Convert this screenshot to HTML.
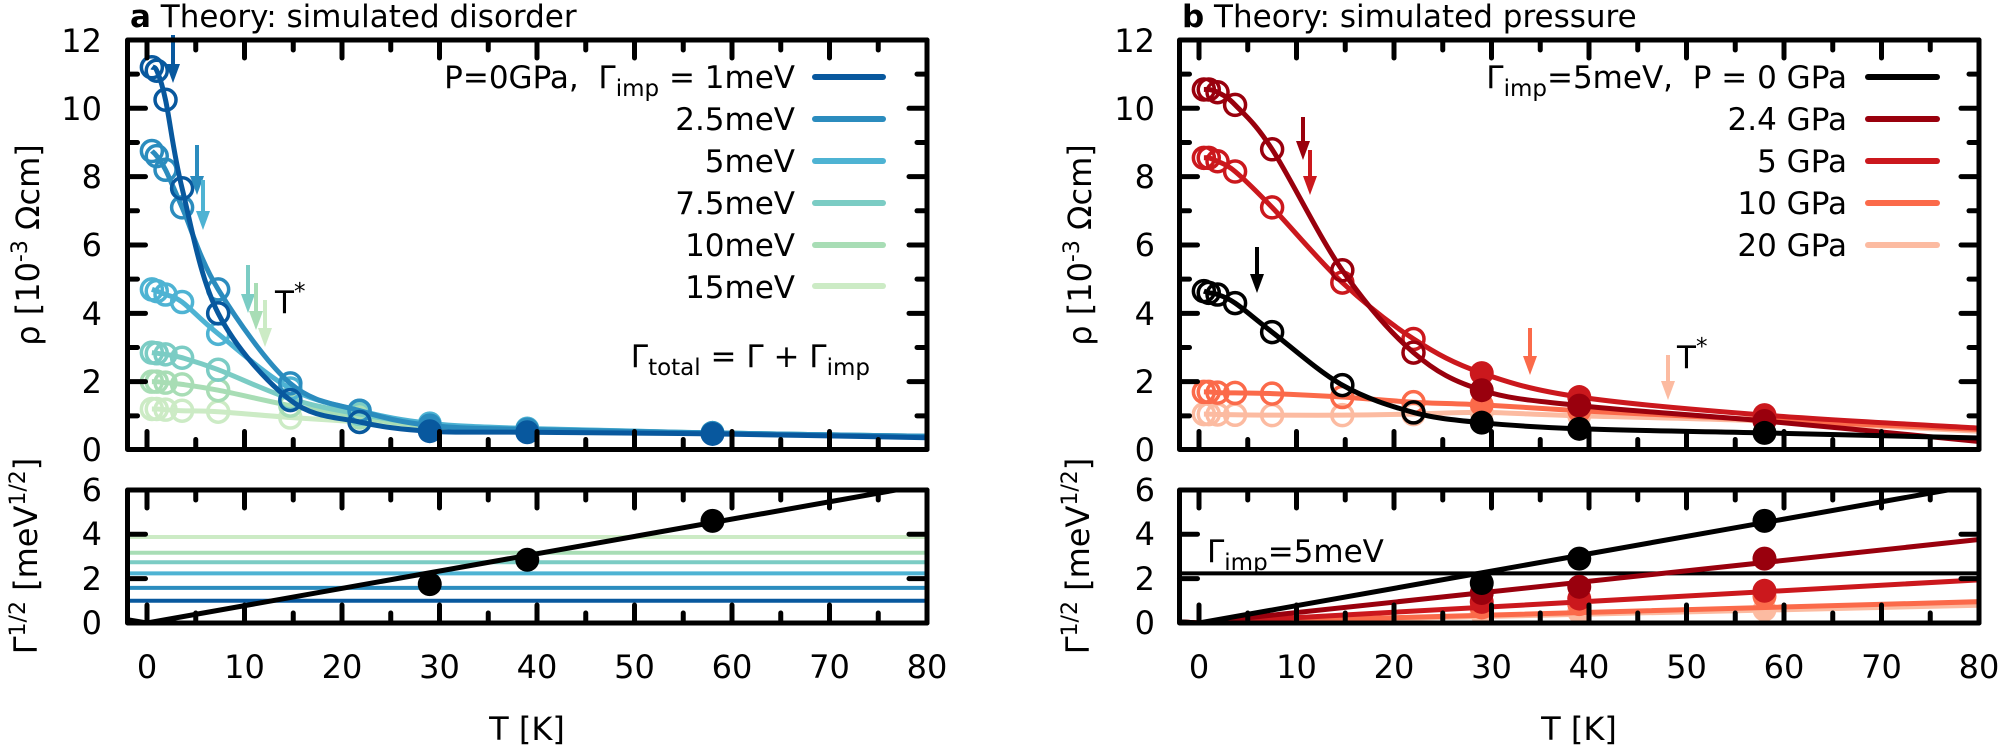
<!DOCTYPE html>
<html><head><meta charset="utf-8">
<style>
html,body{margin:0;padding:0;background:#fff;}
svg{display:block;font-family:"DejaVu Sans","Liberation Sans",sans-serif;}
</style></head>
<body>
<svg id="s" width="2000" height="746" viewBox="0 0 2000 746" xmlns="http://www.w3.org/2000/svg">
<defs>
<clipPath id="cA1"><rect x="127.5" y="40" width="799.5" height="409.5"/></clipPath>
<clipPath id="cA2"><rect x="127.5" y="490" width="799.5" height="133"/></clipPath>
<clipPath id="cB1"><rect x="1179.5" y="40" width="799.5" height="409.5"/></clipPath>
<clipPath id="cB2"><rect x="1179.5" y="490" width="799.5" height="133"/></clipPath>
</defs>
<g id="data"></g>
<g id="axes"></g>

<text x="130" y="27" font-size="31"><tspan font-weight="bold">a</tspan> Theory: simulated disorder</text>
<text x="1182" y="27" font-size="31"><tspan font-weight="bold">b</tspan> Theory: simulated pressure</text>

<g font-size="32" text-anchor="end">
<text x="102" y="461">0</text><text x="102" y="393">2</text><text x="102" y="325">4</text>
<text x="102" y="256">6</text><text x="102" y="188">8</text><text x="102" y="120">10</text><text x="102" y="52">12</text>
<text x="102" y="634">0</text><text x="102" y="590">2</text><text x="102" y="545">4</text><text x="102" y="501">6</text>
<text x="1155" y="461">0</text><text x="1155" y="393">2</text><text x="1155" y="325">4</text>
<text x="1155" y="256">6</text><text x="1155" y="188">8</text><text x="1155" y="120">10</text><text x="1155" y="52">12</text>
<text x="1155" y="634">0</text><text x="1155" y="590">2</text><text x="1155" y="545">4</text><text x="1155" y="501">6</text>
</g>
<g font-size="32" text-anchor="middle">
<text x="147" y="678">0</text><text x="244.5" y="678">10</text><text x="342" y="678">20</text><text x="439.5" y="678">30</text>
<text x="537" y="678">40</text><text x="634.5" y="678">50</text><text x="732" y="678">60</text><text x="829.5" y="678">70</text><text x="927" y="678">80</text>
<text x="1199" y="678">0</text><text x="1296.5" y="678">10</text><text x="1394" y="678">20</text><text x="1491.5" y="678">30</text>
<text x="1589" y="678">40</text><text x="1686.5" y="678">50</text><text x="1784" y="678">60</text><text x="1881.5" y="678">70</text><text x="1979" y="678">80</text>
<text x="527" y="740">T [K]</text><text x="1579" y="740">T [K]</text>
</g>
<text transform="translate(39,245) rotate(-90)" font-size="32" text-anchor="middle">ρ [10<tspan font-size="22" dy="-12">-3</tspan><tspan dy="12"> Ωcm]</tspan></text>
<text transform="translate(1091,245) rotate(-90)" font-size="32" text-anchor="middle">ρ [10<tspan font-size="22" dy="-12">-3</tspan><tspan dy="12"> Ωcm]</tspan></text>
<text transform="translate(37,556) rotate(-90)" font-size="32" text-anchor="middle">Γ<tspan font-size="22" dy="-12">1/2</tspan><tspan dy="12"> [meV</tspan><tspan font-size="22" dy="-12">1/2</tspan><tspan dy="12">]</tspan></text>
<text transform="translate(1089,556) rotate(-90)" font-size="32" text-anchor="middle">Γ<tspan font-size="22" dy="-12">1/2</tspan><tspan dy="12"> [meV</tspan><tspan font-size="22" dy="-12">1/2</tspan><tspan dy="12">]</tspan></text>

<g font-size="31" text-anchor="end">
<text x="795" y="88">P=0GPa,&#160;&#160;Γ<tspan font-size="23" dy="8">imp</tspan><tspan dy="-8"> = 1meV</tspan></text>
<text x="795" y="130">2.5meV</text>
<text x="795" y="172">5meV</text>
<text x="795" y="214">7.5meV</text>
<text x="795" y="256">10meV</text>
<text x="795" y="298">15meV</text>
<text x="870" y="367">Γ<tspan font-size="23" dy="8">total</tspan><tspan dy="-8"> = Γ + Γ</tspan><tspan font-size="23" dy="8">imp</tspan></text>
<text x="1847" y="88">Γ<tspan font-size="23" dy="8">imp</tspan><tspan dy="-8">=5meV,&#160;&#160;P = 0 GPa</tspan></text>
<text x="1847" y="130">2.4 GPa</text>
<text x="1847" y="172">5 GPa</text>
<text x="1847" y="214">10 GPa</text>
<text x="1847" y="256">20 GPa</text>
</g>
<text x="1207" y="562" font-size="31">Γ<tspan font-size="23" dy="8">imp</tspan><tspan dy="-8">=5meV</tspan></text>
<text x="275" y="313" font-size="31">T<tspan font-size="23" dy="-14">*</tspan></text>
<text x="1677" y="368" font-size="31">T<tspan font-size="23" dy="-14">*</tspan></text>

<g stroke-width="6" stroke-linecap="round">
<line x1="815" y1="77" x2="883" y2="77" stroke="#08589e"/>
<line x1="815" y1="119" x2="883" y2="119" stroke="#2b8cbe"/>
<line x1="815" y1="161" x2="883" y2="161" stroke="#4eb3d3"/>
<line x1="815" y1="203" x2="883" y2="203" stroke="#7bccc4"/>
<line x1="815" y1="245" x2="883" y2="245" stroke="#a8ddb5"/>
<line x1="815" y1="286" x2="883" y2="286" stroke="#ccebc5"/>
<line x1="1868" y1="77" x2="1937" y2="77" stroke="#000"/>
<line x1="1868" y1="119" x2="1937" y2="119" stroke="#99000d"/>
<line x1="1868" y1="161" x2="1937" y2="161" stroke="#cb181d"/>
<line x1="1868" y1="203" x2="1937" y2="203" stroke="#fb6a4a"/>
<line x1="1868" y1="245" x2="1937" y2="245" stroke="#fcbba1"/>
</g>
</svg>
<script>
(function(){
var NS="http://www.w3.org/2000/svg";
var data=document.getElementById("data"), axes=document.getElementById("axes");
function el(p,tag,attrs){var e=document.createElementNS(NS,tag);for(var k in attrs)e.setAttribute(k,attrs[k]);p.appendChild(e);return e;}
function X(off,T){return off+147+9.75*T;}
function Y1(v){return 450-34.17*v;}
function Y2(v){return 623-22.2*v;}
function cr(pts){
  var d="M"+pts[0][0].toFixed(1)+","+pts[0][1].toFixed(1);
  for(var i=0;i<pts.length-1;i++){
    var p0=pts[i-1]||pts[i],p1=pts[i],p2=pts[i+1],p3=pts[i+2]||p2;
    var c1=[p1[0]+(p2[0]-p0[0])/6,p1[1]+(p2[1]-p0[1])/6];
    var c2=[p2[0]-(p3[0]-p1[0])/6,p2[1]-(p3[1]-p1[1])/6];
    d+="C"+c1[0].toFixed(1)+","+c1[1].toFixed(1)+" "+c2[0].toFixed(1)+","+c2[1].toFixed(1)+" "+p2[0].toFixed(1)+","+p2[1].toFixed(1);
  }
  return d;
}
function arrow(g,x,y1,y2,c){
  el(g,"line",{x1:x,y1:y1,x2:x,y2:y2-14,stroke:c,"stroke-width":4});
  el(g,"polygon",{points:(x-7)+","+(y2-19)+" "+(x+7)+","+(y2-19)+" "+x+","+y2,fill:c});
}
var TA=[0.5,1,1.9,3.6,7.3,14.7,21.8,29,39,58,80];
var TB=[0.5,1,1.9,3.7,7.5,14.7,22,29,39,58,80];
var A=[
 ["#ccebc5",[1.2,1.2,1.18,1.15,1.12,0.95,0.82,0.65,0.57,0.48,0.38],15],
 ["#a8ddb5",[2.0,2.0,1.97,1.92,1.75,1.3,0.95,0.7,0.6,0.5,0.4],10],
 ["#7bccc4",[2.85,2.83,2.8,2.7,2.35,1.5,1.05,0.75,0.62,0.5,0.4],7.5],
 ["#4eb3d3",[4.7,4.65,4.55,4.33,3.4,1.8,1.15,0.78,0.63,0.5,0.4],5],
 ["#2b8cbe",[8.75,8.6,8.2,7.1,4.7,1.95,1.15,0.72,0.6,0.5,0.4],2.5],
 ["#08589e",[11.2,11.1,10.25,7.66,4.0,1.46,0.82,0.55,0.52,0.47,0.36],1]
];
var B=[
 ["#fcbba1",[1.05,1.05,1.04,1.03,1.02,1.02,1.05,1.1,1.0,0.85,0.55],0.01,[0.45,0.5,0.6]],
 ["#fb6a4a",[1.7,1.7,1.68,1.67,1.65,1.55,1.4,1.32,1.15,0.88,0.6],0.012,[0.7,0.85,1.2]],
 ["#cb181d",[8.55,8.55,8.45,8.15,7.1,4.9,3.25,2.25,1.55,1.02,0.64],0.0243,[0.95,1.1,1.45]],
 ["#99000d",[10.55,10.55,10.47,10.1,8.8,5.26,2.85,1.75,1.3,0.85,0.25],0.047,[1.35,1.63,2.9]],
 ["#000000",[4.65,4.6,4.55,4.3,3.45,1.9,1.1,0.8,0.62,0.5,0.35],0.078,[1.8,2.9,4.6]]
];
function drawTop(off,T,S,clip){
  var g=el(data,"g",{"clip-path":"url(#"+clip+")"});
  S.forEach(function(s){
    var pts=T.map(function(t,i){return [X(off,t),Y1(s[1][i])];});
    el(g,"path",{d:cr(pts),fill:"none",stroke:s[0],"stroke-width":5,"stroke-linejoin":"round"});
    for(var i=0;i<T.length-1;i++){
      if(T[i]<25) el(g,"circle",{cx:pts[i][0],cy:pts[i][1],r:10.5,fill:"none",stroke:s[0],"stroke-width":3.5});
      else el(g,"circle",{cx:pts[i][0],cy:pts[i][1],r:12,fill:s[0]});
    }
  });
}
drawTop(0,TA,A,"cA1");
drawTop(1052,TB,B,"cB1");
var gl=el(data,"g",{"clip-path":"url(#cA2)"});
A.forEach(function(s){var y=Y2(Math.sqrt(s[2]));el(gl,"line",{x1:120,y1:y,x2:935,y2:y,stroke:s[0],"stroke-width":4});});
el(gl,"polyline",{points:X(0,-2)+","+Y2(0.15)+" "+X(0,0)+","+Y2(0)+" "+X(0,82)+","+Y2(0.078*82),fill:"none",stroke:"#000","stroke-width":5});
[[29,1.75],[39,2.85],[58,4.6]].forEach(function(p){el(gl,"circle",{cx:X(0,p[0]),cy:Y2(p[1]),r:12,fill:"#000"});});
var gr=el(data,"g",{"clip-path":"url(#cB2)"});
var yh=Y2(Math.sqrt(5));
el(gr,"line",{x1:1170,y1:yh,x2:1990,y2:yh,stroke:"#000","stroke-width":4});
B.forEach(function(s){
  el(gr,"polyline",{points:X(1052,-2)+","+Y2(0.05)+" "+X(1052,0)+","+Y2(0)+" "+X(1052,82)+","+Y2(s[2]*82),fill:"none",stroke:s[0],"stroke-width":5});
  [29,39,58].forEach(function(t,i){el(gr,"circle",{cx:X(1052,t),cy:Y2(s[3][i]),r:12,fill:s[0]});});
});
var ga=el(data,"g",{});
arrow(ga,173,35,83,"#08589e");arrow(ga,197,145,195,"#2b8cbe");arrow(ga,203,180,230,"#4eb3d3");
arrow(ga,248,265,313,"#7bccc4");arrow(ga,256,283,330,"#a8ddb5");arrow(ga,265,300,347,"#ccebc5");
arrow(ga,1257,247,293,"#000");arrow(ga,1303,117,160,"#99000d");arrow(ga,1310,150,195,"#cb181d");
arrow(ga,1530,328,375,"#fb6a4a");arrow(ga,1668,355,400,"#fcbba1");
function frame(off){
  var L=127.5+off,R=927+off;
  [[40,449.5,true],[490,623,false]].forEach(function(f){
    var top=f[0],bot=f[1],isTop=f[2];
    for(var t=0;t<=80;t+=5){
      var x=X(off,t),len=(t%10===0)?18:10;
      el(axes,"line",{x1:x,y1:bot,x2:x,y2:bot-len,stroke:"#000","stroke-width":5,"stroke-linecap":"round"});
      el(axes,"line",{x1:x,y1:top,x2:x,y2:top+len,stroke:"#000","stroke-width":5,"stroke-linecap":"round"});
    }
    if(isTop){
      for(var v=1;v<12;v++){var y=Y1(v),len=(v%2===0)?18:10;
        el(axes,"line",{x1:L,y1:y,x2:L+len,y2:y,stroke:"#000","stroke-width":5,"stroke-linecap":"round"});
        el(axes,"line",{x1:R,y1:y,x2:R-len,y2:y,stroke:"#000","stroke-width":5,"stroke-linecap":"round"});}
    } else {
      [2,4].forEach(function(v){var y=Y2(v);
        el(axes,"line",{x1:L,y1:y,x2:L+18,y2:y,stroke:"#000","stroke-width":5,"stroke-linecap":"round"});
        el(axes,"line",{x1:R,y1:y,x2:R-18,y2:y,stroke:"#000","stroke-width":5,"stroke-linecap":"round"});});
    }
    el(axes,"rect",{x:L,y:top,width:R-L,height:bot-top,fill:"none",stroke:"#000","stroke-width":5,"stroke-linejoin":"round"});
  });
}
frame(0);frame(1052);
})();
</script>
</body></html>
